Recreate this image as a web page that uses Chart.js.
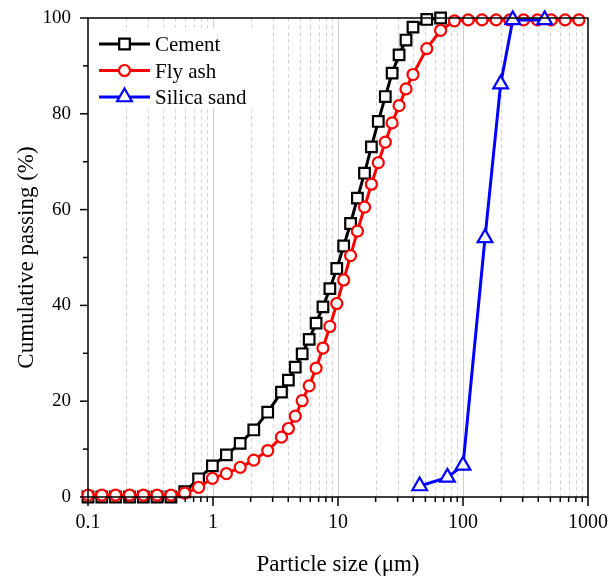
<!DOCTYPE html>
<html><head><meta charset="utf-8">
<script src="https://cdn.jsdelivr.net/npm/chart.js@4.4.0/dist/chart.umd.min.js"></script>
<style>html,body{margin:0;padding:0;background:#fff}</style>
</head><body>
<canvas id="c" width="609" height="576" style="width:609px;height:576px"></canvas>
<script>
// ---- data ----
const particleSizes = [0.1, 0.129, 0.166, 0.215, 0.277, 0.357, 0.461, 0.594, 0.767, 0.989, 1.28, 1.65, 2.12, 2.74, 3.53,
  4.01, 4.55, 5.17, 5.88, 6.68, 7.58, 8.61, 9.78, 11.1, 12.6, 14.3, 16.3, 18.5, 21.0, 23.9, 27.1, 30.8, 35.0, 39.8,
  51.3, 66.2, 85.4, 110, 142, 184, 237, 305, 394, 508, 656, 846];
const cementPassing = [0, 0, 0, 0, 0, 0, 0, 1.1, 3.8, 6.5, 8.8, 11.2, 14.0, 17.7, 21.9,
  24.4, 27.1, 29.9, 32.9, 36.3, 39.7, 43.5, 47.7, 52.4, 57.1, 62.4, 67.6, 73.1, 78.4, 83.6, 88.5, 92.3, 95.4, 98.1,
  99.7, 100];
const flyAshPassing = [0.4, 0.4, 0.4, 0.4, 0.4, 0.4, 0.4, 0.8, 2.0, 3.9, 4.9, 6.2, 7.7, 9.7, 12.5,
  14.3, 16.9, 20.1, 23.2, 26.9, 31.1, 35.6, 40.4, 45.3, 50.4, 55.5, 60.5, 65.3, 69.8, 74.1, 78.1, 81.7, 85.2, 88.2,
  93.6, 97.4, 99.4, 99.6, 99.6, 99.6, 99.6, 99.6, 99.6, 99.6, 99.6, 99.6];
const sandSizes = [45, 75, 100, 150, 200, 250, 450];
const sandPassing = [2.3, 4.1, 6.6, 54.1, 86.2, 99.6, 99.6];
const seriesNames = ['Cement', 'Fly ash', 'Silica sand'];
const xTickLabels = [0.1, 1, 10, 100, 1000];
const yTickLabels = [0, 20, 40, 60, 80, 100];
const yMinorTicks = [10, 30, 50, 70, 90];

const FONT = '"Liberation Serif", "Times New Roman", serif';
const pts = (xs, ys) => ys.map((v, i) => ({x: xs[i], y: v}));
const isDecade = v => Math.abs(Math.log10(v) - Math.round(Math.log10(v))) < 1e-6;

const decoPlugin = {
  id: 'deco',
  beforeDatasetsDraw(chart) {
    const {ctx, chartArea: a, scales: {x}} = chart;
    ctx.save();
    ctx.lineWidth = 1;
    for (const t of x.ticks) {
      const v = t.value;
      if (v <= 0.1 + 1e-9 || v >= 1000 - 1e-6) continue;
      const px = Math.round(x.getPixelForValue(v)) + 0.5;
      const major = isDecade(v);
      ctx.strokeStyle = major ? '#cdcdcd' : '#d6d6d6';
      ctx.setLineDash(major ? [] : [4, 3]);
      ctx.beginPath(); ctx.moveTo(px, a.top); ctx.lineTo(px, a.bottom); ctx.stroke();
    }
    ctx.setLineDash([]);
    // legend background
    ctx.fillStyle = '#ffffff';
    ctx.fillRect(a.left + 2, a.top + 10, 172, 80);
    ctx.restore();
  },
  afterDraw(chart) {
    const {ctx, chartArea: a, scales: {x, y}} = chart;
    ctx.save();
    ctx.strokeStyle = '#000';
    ctx.lineWidth = 1.5;
    // frame
    ctx.beginPath();
    ctx.moveTo(a.left, a.top); ctx.lineTo(a.right, a.top); ctx.lineTo(a.right, a.bottom);
    ctx.lineTo(a.left, a.bottom); ctx.closePath(); ctx.stroke();
    // x ticks
    for (const t of x.ticks) {
      const px = x.getPixelForValue(t.value);
      const len = isDecade(t.value) ? 9 : 5;
      ctx.beginPath(); ctx.moveTo(px, a.bottom); ctx.lineTo(px, a.bottom + len); ctx.stroke();
    }
    // y ticks
    for (const v of yTickLabels) {
      const py = y.getPixelForValue(v);
      ctx.beginPath(); ctx.moveTo(a.left, py); ctx.lineTo(a.left - 8, py); ctx.stroke();
    }
    for (const v of yMinorTicks) {
      const py = y.getPixelForValue(v);
      ctx.beginPath(); ctx.moveTo(a.left, py); ctx.lineTo(a.left - 5, py); ctx.stroke();
    }
    // legend
    const rows = [a.top + 26, a.top + 52.5, a.top + 79];
    chart.data.datasets.forEach((ds, i) => {
      const ly = rows[i];
      ctx.strokeStyle = ds.borderColor;
      ctx.lineWidth = ds.borderWidth;
      ctx.beginPath(); ctx.moveTo(a.left + 11, ly); ctx.lineTo(a.left + 62, ly); ctx.stroke();
      ctx.fillStyle = '#fff';
      ctx.lineWidth = ds.pointBorderWidth;
      Chart.helpers.drawPoint(ctx, {pointStyle: ds.pointStyle, radius: ds.pointRadius, rotation: 0, borderWidth: ds.pointBorderWidth}, a.left + 36.5, ly);
      ctx.fillStyle = '#000';
      ctx.font = '21px ' + FONT;
      ctx.textBaseline = 'alphabetic';
      ctx.fillText(ds.label, a.left + 67, ly + 7);
    });
    ctx.restore();
  }
};

new Chart(document.getElementById('c'), {
  type: 'line',
  data: {
    datasets: [
      {label: seriesNames[0], data: pts(particleSizes, cementPassing), borderColor: '#000000', backgroundColor: '#ffffff',
       borderWidth: 3, pointStyle: 'rect', pointRadius: 7.5, pointBorderWidth: 2.2, pointBackgroundColor: '#ffffff', order: 3, clip: false},
      {label: seriesNames[1], data: pts(particleSizes, flyAshPassing), borderColor: '#ff0000', backgroundColor: '#ffffff',
       borderWidth: 3, pointStyle: 'circle', pointRadius: 5.5, pointBorderWidth: 2.2, pointBackgroundColor: '#ffffff', order: 2, clip: false},
      {label: seriesNames[2], data: pts(sandSizes, sandPassing), borderColor: '#0000ff', backgroundColor: '#ffffff',
       borderWidth: 3, pointStyle: 'triangle', pointRadius: 8.5, pointBorderWidth: 2.2, pointBackgroundColor: '#ffffff', order: 1, clip: false}
    ]
  },
  options: {
    responsive: false, animation: false, devicePixelRatio: 1,
    layout: {padding: {top: 18, right: 21, left: 0, bottom: 0}},
    plugins: {legend: {display: false}, tooltip: {enabled: false}},
    elements: {line: {tension: 0}},
    scales: {
      x: {
        type: 'logarithmic', min: 0.1, max: 1000,
        afterBuildTicks: s => {
          const t = [];
          for (let e = -1; e < 3; e++) for (let m = 1; m < 10; m++) t.push({value: Number((m * Math.pow(10, e)).toPrecision(6))});
          t.push({value: 1000});
          s.ticks = t;
        },
        afterFit: s => { s.height = 79; s.paddingLeft = 0; s.paddingRight = 0; },
        grid: {display: false}, border: {display: false},
        ticks: {
          autoSkip: false, maxRotation: 0, color: '#000', padding: 6, font: {family: FONT, size: 20},
          callback: v => { const l = xTickLabels.find(k => Math.abs(k - v) / k < 1e-6); return l === undefined ? '' : String(l); }
        },
        title: {display: true, text: 'Particle size (μm)', color: '#000', font: {family: FONT, size: 23}, padding: {top: 0, bottom: -3}}
      },
      y: {
        min: 0, max: 100,
        afterBuildTicks: s => { s.ticks = yTickLabels.map(v => ({value: v})); },
        afterFit: s => { s.width = 88; s.paddingTop = 0; s.paddingBottom = 0; },
        grid: {display: false}, border: {display: false},
        ticks: {color: '#000', padding: 9, font: {family: FONT, size: 19}},
        title: {display: true, text: 'Cumulative passing (%)', color: '#000', font: {family: FONT, size: 23}, padding: {top: 13, bottom: 0}}
      }
    }
  },
  plugins: [decoPlugin]
});
</script>
</body></html>
